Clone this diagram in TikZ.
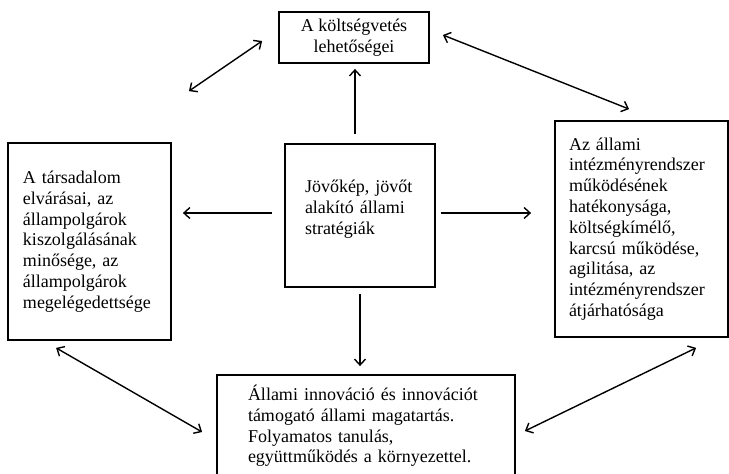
\documentclass[tikz,border=0pt]{standalone}
\usepackage{fontspec}
\setmainfont{Liberation Serif}
\usetikzlibrary{arrows.meta,calc}
\begin{document}
\begin{tikzpicture}[x=1pt,y=-1pt,
  box/.style={draw, line width=1.8pt, inner ysep=0pt, font=\fontsize{18}{20.8}\selectfont},
  lbox/.style={box, align=left},
  arr/.style={line width=1.4pt, -{Straight Barb[length=6pt,width=11pt]}},
  darr/.style={line width=1.4pt, {Straight Barb[length=6pt,width=11pt]}-{Straight Barb[length=6pt,width=11pt]}}]
\useasboundingbox (0,0) rectangle (729,474);

\node[box, align=center, inner xsep=0pt, minimum width=150pt, minimum height=51pt] (tp) at (354,37.5)
  {A költségvetés\\lehetőségei};

\node[lbox, text width=133pt, inner xsep=15pt, minimum height=197pt] (lb) at (89.5,241.5)
  {A társadalom\\elvárásai, az\\állampolgárok\\kiszolgálásának\\minősége, az\\állampolgárok\\megelégedettsége};

\node[lbox, text width=110pt, inner xsep=20pt, minimum height=143pt] (ct) at (360,215.5)
  {Jövőkép, jövőt\\alakító állami\\stratégiák\\[-4pt]\mbox{}};

\node[lbox, text width=145pt, inner xsep=14pt, minimum height=216pt] (rb) at (641.5,229)
  {Az állami\\intézményrendszer\\működésének\\hatékonysága,\\költségkímélő,\\karcsú működése,\\agilitása, az\\intézményrendszer\\átjárhatósága};

\node[lbox, text width=236pt, inner xsep=31pt, minimum height=102pt] (bt) at (366,426)
  {Állami innováció és innovációt\\támogató állami magatartás.\\Folyamatos tanulás,\\együttműködés a környezettel.};

% straight arrows from the centre
\draw[arr] ($(ct.north)+(-5,-9)$) -- ($(tp.south)+(1,5)$);
\draw[arr] ($(ct.south)+(0,6)$) -- ($(bt.north)+(-6,-8)$);
\draw[arr] ($(ct.west)+(-12,-2.5)$) -- ($(lb.east)+(11,-28.5)$);
\draw[arr] ($(ct.east)+(5,-2.5)$) -- ($(rb.west)+(-23,-16)$);

% double arrows round the outside
\draw[darr] ($(lb.north east)+(17,-51)$) -- ($(tp.west)+(-16,3.5)$);
\draw[darr] ($(tp.east)+(13,-2.5)$) -- ($(rb.north west)+(75,-11)$);
\draw[darr] ($(lb.south west)+(49,7)$) -- ($(bt.west)+(-14,6)$);
\draw[darr] ($(rb.south west)+(142,10)$) -- ($(bt.east)+(9,5)$);
\end{tikzpicture}
\end{document}
